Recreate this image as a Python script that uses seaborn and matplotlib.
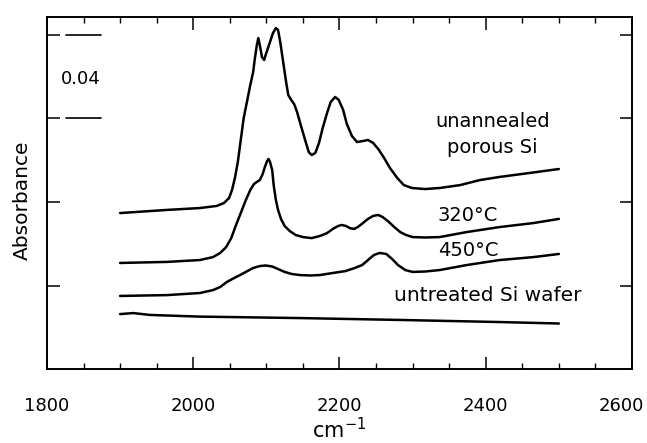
import numpy as np
import pandas as pd
import matplotlib
matplotlib.use("Agg")
import matplotlib.pyplot as plt
import matplotlib.transforms as mtransforms
import seaborn as sns
from matplotlib.ticker import MultipleLocator

# ---- data (wavenumber in cm^-1, absorbance with offsets) ----
x_unannealed = [1900, 1964, 2009, 2032, 2042, 2049, 2053, 2057, 2061, 2065, 2069, 2074,
                2078, 2082, 2084, 2087, 2089, 2091, 2094, 2097, 2099, 2105, 2109, 2113,
                2116, 2119, 2123, 2127, 2130, 2134, 2138, 2142, 2147, 2153, 2158, 2162,
                2167, 2172, 2177, 2183, 2188, 2194, 2199, 2205, 2210, 2217, 2224, 2232,
                2239, 2246, 2253, 2261, 2269, 2279, 2288, 2299, 2317, 2337, 2365, 2392,
                2419, 2460, 2500]
y_unannealed = [0.0747, 0.0762, 0.0771, 0.0781, 0.0795, 0.0819, 0.0857, 0.0915, 0.0992,
                0.1097, 0.1202, 0.1289, 0.1360, 0.1423, 0.1480, 0.1552, 0.1585, 0.1552,
                0.1494, 0.1480, 0.1504, 0.1566, 0.1609, 0.1633, 0.1624, 0.1566, 0.1471,
                0.1375, 0.1312, 0.1289, 0.1269, 0.1231, 0.1169, 0.1097, 0.1039, 0.1025,
                0.1035, 0.1083, 0.1154, 0.1226, 0.1279, 0.1303, 0.1289, 0.1241, 0.1174,
                0.1116, 0.1087, 0.1092, 0.1097, 0.1083, 0.1054, 0.1011, 0.0963, 0.0915,
                0.0881, 0.0867, 0.0862, 0.0867, 0.0881, 0.0905, 0.0920, 0.0939, 0.0958]

x_320 = [1900, 1964, 2009, 2027, 2037, 2045, 2052, 2058, 2065, 2072, 2078, 2083, 2087,
         2091, 2095, 2098, 2101, 2103, 2105, 2108, 2110, 2113, 2116, 2120, 2125, 2132,
         2140, 2150, 2162, 2173, 2183, 2191, 2198, 2203, 2209, 2214, 2220, 2225, 2232,
         2239, 2246, 2253, 2259, 2266, 2275, 2283, 2291, 2300, 2317, 2337, 2374, 2419,
         2465, 2500]
y_320 = [0.0508, 0.0513, 0.0522, 0.0536, 0.0556, 0.0584, 0.0627, 0.0685, 0.0747, 0.0810,
         0.0857, 0.0886, 0.0896, 0.0905, 0.0934, 0.0968, 0.0996, 0.1006, 0.0992, 0.0953,
         0.0881, 0.0810, 0.0762, 0.0719, 0.0685, 0.0661, 0.0642, 0.0632, 0.0627, 0.0637,
         0.0651, 0.0671, 0.0685, 0.0690, 0.0685, 0.0675, 0.0671, 0.0680, 0.0699, 0.0719,
         0.0733, 0.0738, 0.0728, 0.0709, 0.0680, 0.0656, 0.0642, 0.0632, 0.0630, 0.0632,
         0.0656, 0.0680, 0.0699, 0.0719]

x_450 = [1900, 1964, 2009, 2027, 2037, 2046, 2056, 2064, 2074, 2082, 2091, 2099, 2108,
         2116, 2125, 2135, 2146, 2160, 2173, 2191, 2208, 2221, 2231, 2239, 2247, 2255,
         2264, 2272, 2280, 2290, 2300, 2317, 2337, 2374, 2419, 2465, 2500]
y_450 = [0.0350, 0.0354, 0.0364, 0.0378, 0.0393, 0.0417, 0.0436, 0.0450, 0.0469, 0.0484,
         0.0493, 0.0496, 0.0491, 0.0479, 0.0465, 0.0455, 0.0450, 0.0448, 0.0450, 0.0460,
         0.0469, 0.0484, 0.0498, 0.0522, 0.0546, 0.0556, 0.0551, 0.0527, 0.0498, 0.0474,
         0.0465, 0.0467, 0.0474, 0.0498, 0.0522, 0.0536, 0.0551]

x_wafer = [1900, 1918, 1941, 2009, 2146, 2283, 2419, 2500]
y_wafer = [0.0263, 0.0268, 0.0259, 0.0251, 0.0244, 0.0235, 0.0225, 0.0218]

x_ticks = [1800, 2000, 2200, 2400, 2600]
y_ticks = [0.04, 0.08, 0.12, 0.16]
scale_bar = (0.12, 0.16)
scale_label = "0.04"

series = [
    ("unannealed porous Si", x_unannealed, y_unannealed),
    ("320°C", x_320, y_320),
    ("450°C", x_450, y_450),
    ("untreated Si wafer", x_wafer, y_wafer),
]
df = pd.concat([pd.DataFrame({"cm": xs, "A": ys, "sample": name}) for name, xs, ys in series],
               ignore_index=True)

sns.set_theme(style="ticks")
plt.rcParams["font.family"] = ["DejaVu Sans"]
plt.rcParams["text.color"] = "black"
plt.rcParams["axes.labelcolor"] = "black"
plt.rcParams["xtick.color"] = "black"
plt.rcParams["ytick.color"] = "black"

fig = plt.figure(figsize=(6.47, 4.43), dpi=100)
ax = fig.add_axes([0.0726, 0.167, 0.9042, 0.7946])

for name, _, _ in series:
    sns.lineplot(data=df[df["sample"] == name], x="cm", y="A", ax=ax,
                 color="black", linewidth=1.8, estimator=None, sort=False,
                 solid_joinstyle="round", solid_capstyle="round")

ax.set_xlim(1800, 2600)
ax.set_ylim(0, 0.1686)
ax.set_xticks(x_ticks)
ax.set_xticklabels([str(v) for v in x_ticks])
ax.xaxis.set_minor_locator(MultipleLocator(50))
ax.set_yticks(y_ticks)
ax.set_yticklabels([])
ax.tick_params(axis="both", which="major", direction="in", top=True, right=True,
               length=9, width=1.1, color="black", labelsize=13, pad=20)
ax.tick_params(axis="x", which="minor", direction="in", top=True, bottom=True,
               length=4.5, width=1.0, color="black")
for sp in ax.spines.values():
    sp.set_linewidth(1.4)
    sp.set_color("black")

# shift last x tick label inward so it stays on the canvas (as in the reference)
last = ax.get_xticklabels()[-1]
last.set_transform(last.get_transform() +
                   mtransforms.ScaledTranslation(-0.11, 0, fig.dpi_scale_trans))

# scale bar
for yv in scale_bar:
    ax.plot([1826, 1874], [yv, yv], color="black", linewidth=1.2)
ax.text(1846, 0.139, scale_label, ha="center", va="center", fontsize=13)

ax.set_xlabel("cm$^{-1}$", fontsize=15)
ax.xaxis.set_label_coords(0.5, -0.135)
ax.set_ylabel("Absorbance", fontsize=14.5)
ax.yaxis.set_label_coords(-0.026, 0.48)

ax.text(2410, 0.1185, "unannealed", ha="center", va="center", fontsize=14)
ax.text(2409, 0.1060, "porous Si", ha="center", va="center", fontsize=14)
ax.text(2376, 0.0735, "320°C", ha="center", va="center", fontsize=14)
ax.text(2376, 0.0568, "450°C", ha="center", va="center", fontsize=14)
ax.text(2403, 0.0350, "untreated Si wafer", ha="center", va="center", fontsize=14.5)

fig.savefig("out.png", dpi=100)
